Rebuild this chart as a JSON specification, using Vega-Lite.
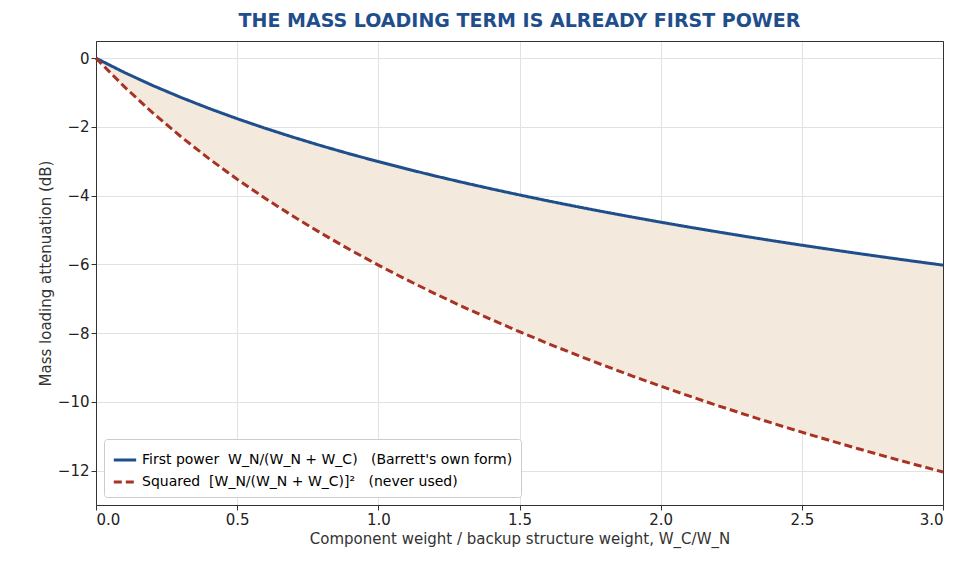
{
  "$schema": "https://vega.github.io/schema/vega-lite/v6.json",
  "width": 847,
  "height": 464,
  "background": "white",
  "padding": {"left": 38, "top": 12, "right": 25, "bottom": 5},
  "title": {"text": "THE MASS LOADING TERM IS ALREADY FIRST POWER", "color": "#1f4e8c", "fontSize": 19, "fontWeight": "bold", "font": "DejaVu Sans", "offset": 10},
  "data": {"values": [
    {"r": 0.0, "first": 0.0, "squared": 0.0},
    {"r": 0.1, "first": -0.414, "squared": -0.828},
    {"r": 0.2, "first": -0.792, "squared": -1.584},
    {"r": 0.3, "first": -1.139, "squared": -2.279},
    {"r": 0.4, "first": -1.461, "squared": -2.923},
    {"r": 0.5, "first": -1.761, "squared": -3.522},
    {"r": 0.6, "first": -2.041, "squared": -4.082},
    {"r": 0.7, "first": -2.304, "squared": -4.609},
    {"r": 0.8, "first": -2.553, "squared": -5.105},
    {"r": 0.9, "first": -2.788, "squared": -5.575},
    {"r": 1.0, "first": -3.010, "squared": -6.021},
    {"r": 1.1, "first": -3.222, "squared": -6.444},
    {"r": 1.2, "first": -3.424, "squared": -6.848},
    {"r": 1.3, "first": -3.617, "squared": -7.235},
    {"r": 1.4, "first": -3.802, "squared": -7.604},
    {"r": 1.5, "first": -3.979, "squared": -7.959},
    {"r": 1.6, "first": -4.150, "squared": -8.299},
    {"r": 1.7, "first": -4.314, "squared": -8.627},
    {"r": 1.8, "first": -4.472, "squared": -8.943},
    {"r": 1.9, "first": -4.624, "squared": -9.248},
    {"r": 2.0, "first": -4.771, "squared": -9.542},
    {"r": 2.1, "first": -4.914, "squared": -9.827},
    {"r": 2.2, "first": -5.051, "squared": -10.103},
    {"r": 2.3, "first": -5.185, "squared": -10.370},
    {"r": 2.4, "first": -5.315, "squared": -10.630},
    {"r": 2.5, "first": -5.441, "squared": -10.881},
    {"r": 2.6, "first": -5.563, "squared": -11.126},
    {"r": 2.7, "first": -5.682, "squared": -11.364},
    {"r": 2.8, "first": -5.798, "squared": -11.596},
    {"r": 2.9, "first": -5.911, "squared": -11.821},
    {"r": 3.0, "first": -6.021, "squared": -12.041}
  ]},
  "resolve": {"axis": {"x": "independent", "y": "independent"}},
  "layer": [
    {
      "mark": {"type": "area", "color": "#f3e9dd", "opacity": 1},
      "encoding": {
        "x": {"field": "r", "type": "quantitative", "scale": {"domain": [0, 3], "nice": false, "zero": false},
          "axis": {"title": "Component weight / backup structure weight,  W_C/W_N", "values": [0, 0.5, 1, 1.5, 2, 2.5, 3], "format": ".1f"}},
        "y": {"field": "first", "type": "quantitative", "scale": {"domain": [-13, 0.5], "nice": false},
          "axis": {"title": "Mass loading attenuation  (dB)", "values": [0, -2, -4, -6, -8, -10, -12]}},
        "y2": {"field": "squared"}
      }
    },
    {
      "transform": [{"fold": ["first", "squared"], "as": ["series", "db"]}],
      "mark": {"type": "line", "strokeWidth": 3},
      "encoding": {
        "x": {"field": "r", "type": "quantitative",
          "axis": {"orient": "top", "labels": false, "ticks": false, "grid": false, "title": null}},
        "y": {"field": "db", "type": "quantitative",
          "axis": {"orient": "right", "labels": false, "ticks": false, "grid": false, "title": null}},
        "color": {"field": "series", "type": "nominal",
          "scale": {"domain": ["first", "squared"], "range": ["#1f4e8c", "#a83224"]},
          "legend": {"title": null, "orient": "bottom-left", "labelExpr": "datum.value == 'first' ? 'First power\u00a0\u00a0W_N/(W_N + W_C)\u00a0\u00a0\u00a0(Barrett\\'s own form)' : 'Squared\u00a0\u00a0[W_N/(W_N + W_C)]²\u00a0\u00a0\u00a0(never used)'"}},
        "strokeDash": {"field": "series", "type": "nominal",
          "scale": {"domain": ["first", "squared"], "range": [[1, 0], [8, 4]]}}
      }
    }
  ],
  "config": {
    "font": "DejaVu Sans",
    "view": {"stroke": "#333333"},
    "axis": {"labelFontSize": 15, "titleFontSize": 15, "titleFontWeight": "normal", "titleColor": "#333333", "labelColor": "#222222", "gridColor": "#e2e2e2", "domain": true, "domainColor": "#333333", "tickColor": "#333333", "labelFont": "DejaVu Sans"},
    "legend": {"labelFontSize": 14, "symbolType": "stroke", "symbolSize": 500, "symbolStrokeWidth": 3, "padding": 8, "strokeColor": "#cccccc", "fillColor": "white", "cornerRadius": 3, "labelLimit": 600, "offset": 8}
  }
}
